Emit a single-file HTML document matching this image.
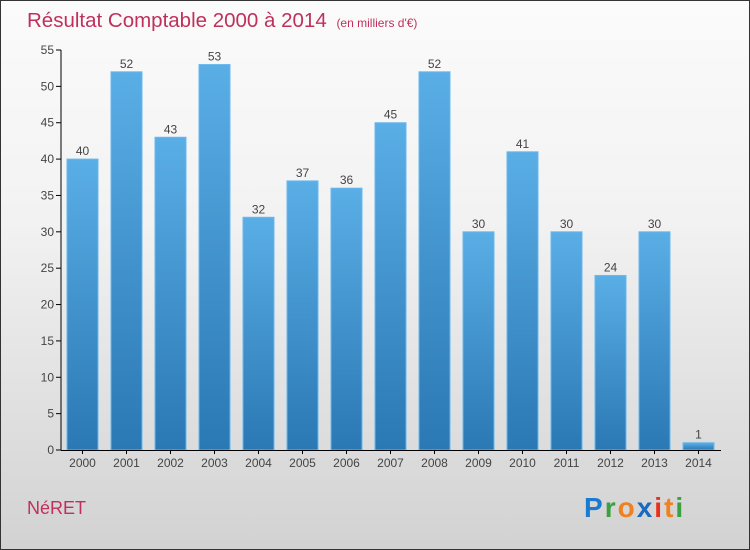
<!DOCTYPE html>
<html><head><meta charset="utf-8"><style>
body{margin:0}
#c{width:748px;height:548px;border:1px solid #333;background:linear-gradient(#fbfbfb,#f2f2f2 40%,#d2d2d2);position:relative;overflow:hidden;font-family:"Liberation Sans",sans-serif}
</style></head><body>
<div id="c">
<svg id="s" width="748" height="548" style="position:absolute;left:0;top:0">
<defs><linearGradient id="g" x1="0" y1="0" x2="0" y2="1"><stop offset="0" stop-color="#5aaee6"/><stop offset="1" stop-color="#2a78b4"/></linearGradient></defs>
<text x="26" y="26" font-size="20.5" fill="#c0305c">Résultat Comptable 2000 à 2014 <tspan font-size="12" dx="4">(en milliers d'€)</tspan></text>
<text x="26" y="513" font-size="18" fill="#c0305c">NéRET</text>
<text x="583" y="516" font-size="28" font-weight="bold" letter-spacing="2"><tspan fill="#1a7ad0">P</tspan><tspan fill="#3aa040">r</tspan><tspan fill="#f08020">o</tspan><tspan fill="#1a6ac0">x</tspan><tspan fill="#e83020">i</tspan><tspan fill="#f08020">t</tspan><tspan fill="#3aa040">i</tspan></text>
<g id="plot"></g>
</svg>
</div>
<script>
const categories=["2000","2001","2002","2003","2004","2005","2006","2007","2008","2009","2010","2011","2012","2013","2014"];
const values=[40,52,43,53,32,37,36,45,52,30,41,30,24,30,1];
const yTicks=[0,5,10,15,20,25,30,35,40,45,50,55];
const NS="http://www.w3.org/2000/svg";
const g=document.getElementById('plot');
const y=v=>449-v*400/55;
const x=i=>81.5+i*44;
function el(t,a){const e=document.createElementNS(NS,t);for(const k in a)e.setAttribute(k,a[k]);g.appendChild(e);return e;}
yTicks.forEach(t=>{
 const l=el('line',{x1:55,x2:60,y1:y(t),y2:y(t),stroke:'#000'});
 
 
 const tx=el('text',{x:53,y:y(t)+4,'text-anchor':'end','font-size':12,fill:'#444'});tx.textContent=t;
 
 
});
values.forEach((v,i)=>{
 const r=el('rect',{x:x(i)-15.5,y:y(v),width:31,height:449-y(v),fill:'url(#g)',stroke:'#6ab8ee','stroke-width':1});
 
 
 const t=el('text',{x:x(i),y:y(v)-4,'text-anchor':'middle','font-size':12,fill:'#444'});t.textContent=v;
 
 
 const c=el('text',{x:x(i),y:466,'text-anchor':'middle','font-size':12,fill:'#444'});c.textContent=categories[i];
 
 
 const tk=el('line',{x1:x(i),x2:x(i),y1:449,y2:453,stroke:'#000'});
 
 
});
const ya=el('line',{x1:60,x2:60,y1:y(55),y2:449.5,stroke:'#000'});


const xa=el('line',{x1:60,x2:720,y1:449.5,y2:449.5,stroke:'#000'});


</script>
</body></html>
